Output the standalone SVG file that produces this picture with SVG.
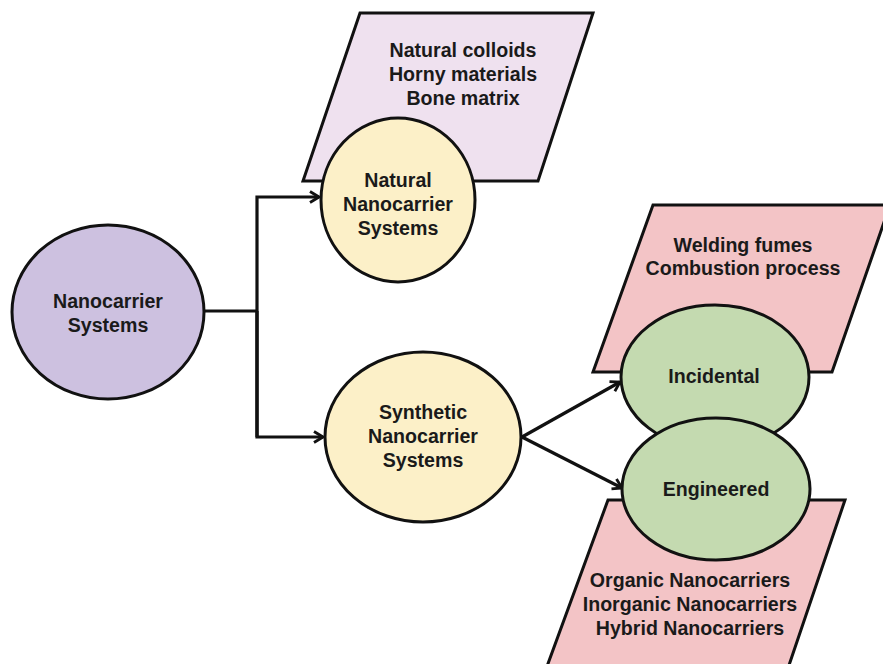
<svg xmlns="http://www.w3.org/2000/svg" width="883" height="664" viewBox="0 0 883 664">
  <style>
    .shape { stroke: #111; stroke-width: 3; }
    .lav { fill: #efe1ef; }
    .pink { fill: #f3c4c6; }
    .root { fill: #cdc1e0; }
    .yellow { fill: #fcf0c8; }
    .green { fill: #c4dab0; }
    .label { font-family: "Liberation Sans", Arial, sans-serif; font-weight: bold; font-size: 19.6px; fill: #1a1a1a; text-anchor: middle; }
    .conn { fill: none; stroke: #111; stroke-width: 3.2; }
  </style>
  <defs>
    <marker id="arrow" viewBox="0 0 14 14" refX="12" refY="7" markerWidth="14" markerHeight="14" markerUnits="userSpaceOnUse" orient="auto">
      <path d="M3,1.5 L12,7 L3,12.5" fill="none" stroke="#111" stroke-width="2.8" stroke-linejoin="miter"/>
    </marker>
  </defs>

  <!-- list boxes (drawn first, ellipses overlap them) -->
  <g id="natural-examples">
    <polygon class="shape lav" points="360,13 593,13 538,181 303,181"/>
    <text class="label" x="463" y="57">Natural colloids</text>
    <text class="label" x="463" y="81">Horny materials</text>
    <text class="label" x="463" y="105">Bone matrix</text>
  </g>
  <g id="incidental-examples">
    <polygon class="shape pink" points="653,205 890,205 832,372 593,372"/>
    <text class="label" x="743" y="252">Welding fumes</text>
    <text class="label" x="743" y="275">Combustion process</text>
  </g>
  <g id="engineered-examples">
    <polygon class="shape pink" points="608,500 845,500 784,680 542,680"/>
    <text class="label" x="690" y="587">Organic Nanocarriers</text>
    <text class="label" x="690" y="611">Inorganic Nanocarriers</text>
    <text class="label" x="690" y="635">Hybrid Nanocarriers</text>
  </g>

  <!-- connectors -->
  <g id="connectors">
    <polyline class="conn" points="205,311 257,311"/>
    <polyline class="conn" points="257,437 257,197 319,197" marker-end="url(#arrow)"/>
    <polyline class="conn" points="257,311 257,437 323,437" marker-end="url(#arrow)"/>
    <line class="conn" x1="522" y1="437" x2="620" y2="382" marker-end="url(#arrow)"/>
    <line class="conn" x1="522" y1="437" x2="622" y2="488" marker-end="url(#arrow)"/>
  </g>

  <g id="nanocarrier-systems">
    <ellipse class="shape root" cx="108" cy="312" rx="96" ry="87"/>
    <text class="label" x="108" y="308">Nanocarrier</text>
    <text class="label" x="108" y="332">Systems</text>
  </g>
  <g id="natural-systems">
    <ellipse class="shape yellow" cx="398" cy="200" rx="77" ry="82"/>
    <text class="label" x="398" y="187">Natural</text>
    <text class="label" x="398" y="211">Nanocarrier</text>
    <text class="label" x="398" y="235">Systems</text>
  </g>
  <g id="synthetic-systems">
    <ellipse class="shape yellow" cx="423" cy="437" rx="98" ry="85"/>
    <text class="label" x="423" y="419">Synthetic</text>
    <text class="label" x="423" y="443">Nanocarrier</text>
    <text class="label" x="423" y="467">Systems</text>
  </g>
  <g id="incidental">
    <ellipse class="shape green" cx="715" cy="377" rx="94" ry="72"/>
    <text class="label" x="714" y="383">Incidental</text>
  </g>
  <g id="engineered">
    <ellipse class="shape green" cx="716" cy="489" rx="94" ry="71"/>
    <text class="label" x="716" y="496">Engineered</text>
  </g>
</svg>
